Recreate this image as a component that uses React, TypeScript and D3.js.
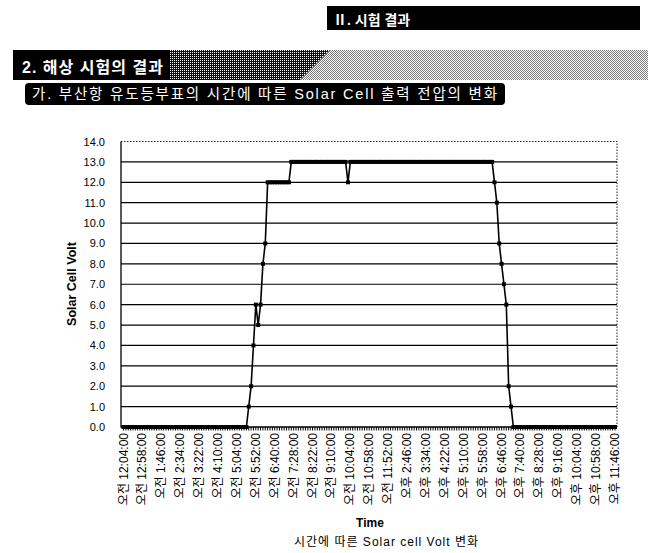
import React, { useEffect, useRef } from "react";
import * as d3 from "d3";

// category labels shown on the x axis (one every 8 samples)
const timeLabels = [
  "오전 12:04:00", "오전 12:58:00", "오전 1:46:00", "오전 2:34:00", "오전 3:22:00",
  "오전 4:10:00", "오전 5:04:00", "오전 5:52:00", "오전 6:40:00", "오전 7:28:00",
  "오전 8:22:00", "오전 9:10:00", "오전 10:04:00", "오전 10:58:00", "오전 11:52:00",
  "오후 2:46:00", "오후 3:34:00", "오후 4:22:00", "오후 5:10:00", "오후 5:58:00",
  "오후 6:46:00", "오후 7:40:00", "오후 8:28:00", "오후 9:16:00", "오후 10:04:00",
  "오후 10:58:00", "오후 11:46:00",
];

const samplesPerLabel = 8;

// Solar cell voltage, one row per labelled interval
const voltValues = [
  0, 0, 0, 0, 0, 0, 0, 0,
  0, 0, 0, 0, 0, 0, 0, 0,
  0, 0, 0, 0, 0, 0, 0, 0,
  0, 0, 0, 0, 0, 0, 0, 0,
  0, 0, 0, 0, 0, 0, 0, 0,
  0, 0, 0, 0, 0, 0, 0, 0,
  0, 0, 0, 0, 0, 1, 2, 4,
  6, 5, 6, 8, 9, 12, 12, 12,
  12, 12, 12, 12, 12, 12, 12, 13,
  13, 13, 13, 13, 13, 13, 13, 13,
  13, 13, 13, 13, 13, 13, 13, 13,
  13, 13, 13, 13, 13, 13, 13, 12,
  13, 13, 13, 13, 13, 13, 13, 13,
  13, 13, 13, 13, 13, 13, 13, 13,
  13, 13, 13, 13, 13, 13, 13, 13,
  13, 13, 13, 13, 13, 13, 13, 13,
  13, 13, 13, 13, 13, 13, 13, 13,
  13, 13, 13, 13, 13, 13, 13, 13,
  13, 13, 13, 13, 13, 13, 13, 13,
  13, 13, 13, 13, 13, 12, 11, 9,
  8, 7, 6, 2, 1, 0, 0, 0,
  0, 0, 0, 0, 0, 0, 0, 0,
  0, 0, 0, 0, 0, 0, 0, 0,
  0, 0, 0, 0, 0, 0, 0, 0,
  0, 0, 0, 0, 0, 0, 0, 0,
  0, 0, 0, 0, 0, 0, 0, 0,
  0,
];

const yTicks = [0, 1, 2, 3, 4, 5, 6, 7, 8, 9, 10, 11, 12, 13, 14];

const chapterTitle = "Ⅱ. 시험 결과";
const sectionTitle = "2. 해상 시험의 결과";
const subTitle = "가. 부산항 유도등부표의 시간에 따른 Solar Cell 출력 전압의 변화";
const yTitle = "Solar Cell Volt";
const xTitle = "Time";
const caption = "시간에 따른 Solar cell Volt 변화";

const FONT = "'Liberation Sans', Arial, 'Noto Sans CJK KR', sans-serif";

const App: React.FC = () => {
  const svgRef = useRef<SVGSVGElement>(null);

  useEffect(() => {
    if (!svgRef.current) return;
    const svg = d3.select(svgRef.current);
    svg.selectAll("*").remove();

    const plotLeft = 121;
    const plotRight = 617;
    const plotTop = 141.5;
    const plotBottom = 427;

    const x = d3
      .scaleLinear()
      .domain([0, voltValues.length - 1])
      .range([123.5, 615]);
    const y = d3.scaleLinear().domain([0, 14]).range([plotBottom, plotTop]);

    // patterns for the section banner
    const defs = svg.append("defs");
    const dark = defs
      .append("pattern")
      .attr("id", "darkDots")
      .attr("width", 2)
      .attr("height", 2)
      .attr("patternUnits", "userSpaceOnUse");
    dark.append("rect").attr("width", 2).attr("height", 2).attr("fill", "#111");
    dark.append("rect").attr("width", 1).attr("height", 1).attr("fill", "#fff");
    const light = defs
      .append("pattern")
      .attr("id", "lightDots")
      .attr("width", 2)
      .attr("height", 2)
      .attr("patternUnits", "userSpaceOnUse");
    light.append("rect").attr("width", 2).attr("height", 2).attr("fill", "#fff");
    light.append("rect").attr("width", 1).attr("height", 1).attr("fill", "#777");
    light
      .append("rect")
      .attr("x", 1)
      .attr("y", 1)
      .attr("width", 1)
      .attr("height", 1)
      .attr("fill", "#777");

    // chapter header
    svg
      .append("rect")
      .attr("x", 327)
      .attr("y", 6)
      .attr("width", 313)
      .attr("height", 24)
      .attr("fill", "#000");
    svg
      .append("text")
      .attr("x", 333)
      .attr("y", 24.5)
      .attr("fill", "#fff")
      .attr("font-family", FONT)
      .attr("font-size", 14)
      .attr("font-weight", "bold")
      .text(chapterTitle);

    // section banner
    svg
      .append("polygon")
      .attr("points", "330,50 648,50 648,80 300,80")
      .attr("fill", "url(#lightDots)");
    svg
      .append("polygon")
      .attr("points", "13,50 330,50 300,80 13,80")
      .attr("fill", "url(#darkDots)");
    svg
      .append("rect")
      .attr("x", 13)
      .attr("y", 50)
      .attr("width", 157)
      .attr("height", 30)
      .attr("fill", "#000");
    svg
      .append("text")
      .attr("x", 22)
      .attr("y", 73)
      .attr("fill", "#fff")
      .attr("font-family", FONT)
      .attr("font-size", 16)
      .attr("font-weight", "bold")
      .attr("textLength", 141)
      .attr("lengthAdjust", "spacing")
      .text(sectionTitle);

    // sub title bar
    svg
      .append("rect")
      .attr("x", 25)
      .attr("y", 83)
      .attr("width", 480)
      .attr("height", 22)
      .attr("rx", 4)
      .attr("fill", "#000");
    svg
      .append("text")
      .attr("x", 32)
      .attr("y", 99)
      .attr("fill", "#fff")
      .attr("font-family", FONT)
      .attr("font-size", 14.5)
      .attr("textLength", 465)
      .attr("lengthAdjust", "spacing")
      .text(subTitle);

    const plot = svg.append("g");

    // horizontal gridlines
    plot
      .append("g")
      .selectAll("line")
      .data(yTicks.filter((d) => d > 0 && d < 14))
      .join("line")
      .attr("x1", plotLeft)
      .attr("x2", plotRight)
      .attr("y1", (d) => y(d))
      .attr("y2", (d) => y(d))
      .attr("stroke", "#000")
      .attr("stroke-width", 1.2);

    // dotted plot border (top and right)
    plot
      .append("path")
      .attr("d", `M${plotLeft},${y(14)}H${plotRight}V${plotBottom}`)
      .attr("fill", "none")
      .attr("stroke", "#222")
      .attr("stroke-width", 1)
      .attr("stroke-dasharray", "1.5,1.5");

    // axes lines
    plot
      .append("path")
      .attr("d", `M${plotLeft},${y(14)}V${plotBottom}H${plotRight}`)
      .attr("fill", "none")
      .attr("stroke", "#000")
      .attr("stroke-width", 1.3);

    // category tick marks
    plot
      .append("g")
      .selectAll("line")
      .data(voltValues.map((_, i) => i))
      .join("line")
      .attr("x1", (i) => x(i))
      .attr("x2", (i) => x(i))
      .attr("y1", plotBottom)
      .attr("y2", plotBottom + 3.5)
      .attr("stroke", "#000")
      .attr("stroke-width", 1);

    // y tick labels
    plot
      .append("g")
      .selectAll("text")
      .data(yTicks)
      .join("text")
      .attr("x", 105)
      .attr("y", (d) => y(d) + 4)
      .attr("text-anchor", "end")
      .attr("font-family", FONT)
      .attr("font-size", 11)
      .attr("fill", "#000")
      .text((d) => d3.format(".1f")(d));

    // x tick labels (rotated)
    plot
      .append("g")
      .selectAll("text")
      .data(timeLabels)
      .join("text")
      .attr(
        "transform",
        (_, j) => `translate(${x(j * samplesPerLabel) + 4},433) rotate(-90)`
      )
      .attr("text-anchor", "end")
      .attr("font-family", FONT)
      .attr("font-size", 12)
      .attr("fill", "#000")
      .text((d) => d);

    // axis titles
    plot
      .append("text")
      .attr("transform", `translate(76,284) rotate(-90)`)
      .attr("text-anchor", "middle")
      .attr("font-family", FONT)
      .attr("font-size", 12.5)
      .attr("font-weight", "bold")
      .text(yTitle);
    plot
      .append("text")
      .attr("x", 370)
      .attr("y", 526.5)
      .attr("text-anchor", "middle")
      .attr("font-family", FONT)
      .attr("font-size", 12)
      .attr("font-weight", "bold")
      .text(xTitle);

    // series
    const line = d3
      .line<number>()
      .x((_, i) => x(i))
      .y((d) => y(d));
    plot
      .append("path")
      .datum(voltValues)
      .attr("d", line)
      .attr("fill", "none")
      .attr("stroke", "#000")
      .attr("stroke-width", 1.6)
      .attr("stroke-linejoin", "round");

    const marker = d3.symbol().type(d3.symbolSquare).size(16);
    plot
      .append("g")
      .selectAll("path")
      .data(voltValues)
      .join("path")
      .attr("transform", (d, i) => `translate(${x(i)},${y(d)})`)
      .attr("d", marker)
      .attr("fill", "#000");

    // caption
    svg
      .append("text")
      .attr("x", 386)
      .attr("y", 546)
      .attr("text-anchor", "middle")
      .attr("font-family", FONT)
      .attr("font-size", 12)
      .attr("textLength", 184)
      .attr("lengthAdjust", "spacing")
      .text(caption);
  }, []);

  return (
    <svg
      ref={svgRef}
      width={648}
      height={553}
      style={{ position: "absolute", left: 0, top: 0, background: "#fff" }}
    />
  );
};

export default App;
